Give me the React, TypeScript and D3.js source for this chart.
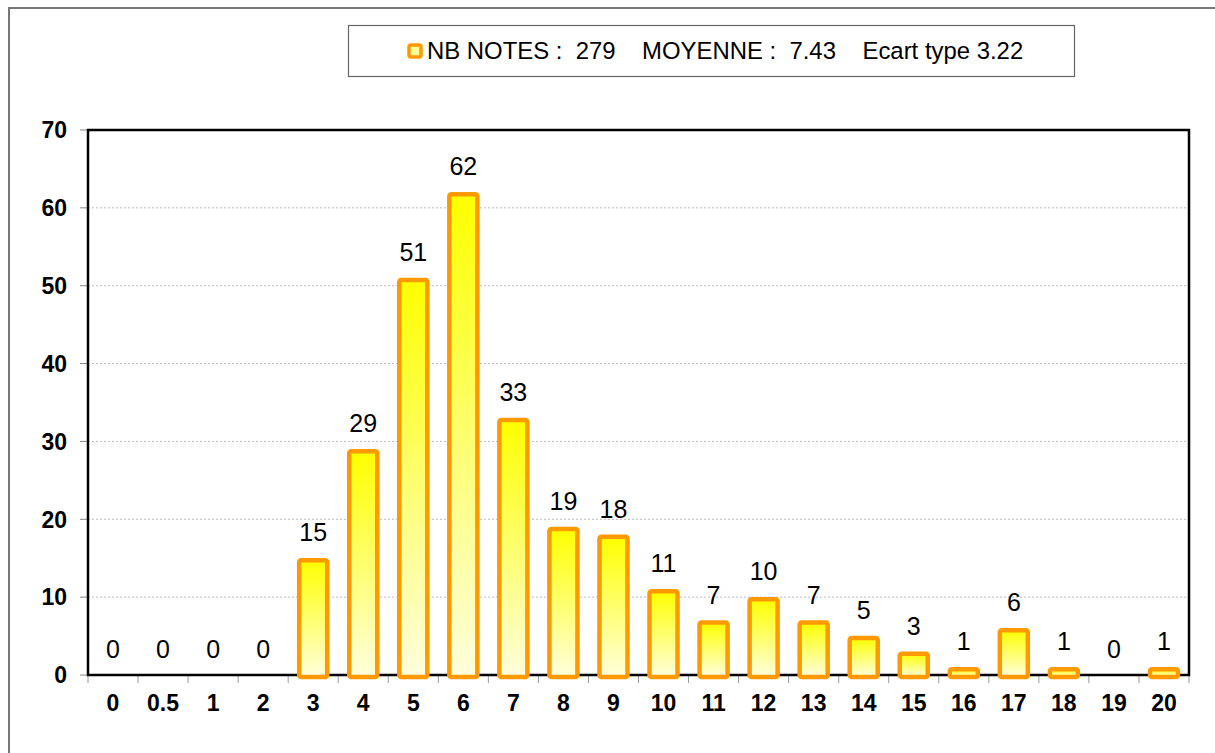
import React from "react";
import * as d3 from "d3";

// distribution des notes

const notes = ["0", "0.5", "1", "2", "3", "4", "5", "6", "7", "8", "9", "10", "11", "12", "13", "14", "15", "16", "17", "18", "19", "20"];
const effectifs = [0, 0, 0, 0, 15, 29, 51, 62, 33, 19, 18, 11, 7, 10, 7, 5, 3, 1, 6, 1, 0, 1];
const yTicks = [0, 10, 20, 30, 40, 50, 60, 70];
const legendText = "NB NOTES :  279    MOYENNE :  7.43    Ecart type 3.22";

const W = 1215;
const H = 753;
const margin = { top: 130, right: 26, bottom: 78, left: 88 };
const font = "Arial, 'Liberation Sans', sans-serif";

export default function App() {
  const innerW = W - margin.left - margin.right;
  const innerH = H - margin.top - margin.bottom;

  const x = d3.scaleBand<string>().domain(notes).range([0, innerW]).paddingInner(0.36).paddingOuter(0.18);
  const y = d3.scaleLinear().domain([0, 70]).range([innerH, 0]);
  const step = x.step();
  const bw = x.bandwidth();

  return (
    <svg width={W} height={H} style={{ position: "absolute", left: 0, top: 0, background: "#fff" }} fontFamily={font}>
      <defs>
        <linearGradient id="barGrad" x1="0" x2="0" y1="0" y2="1">
          <stop offset="0%" stopColor="#ffff00" />
          <stop offset="100%" stopColor="#ffffdd" />
        </linearGradient>
      </defs>

      <rect x={9} y={8} width={W + 10} height={H + 10} fill="none" stroke="#777" strokeWidth={2} />

      {/* legend */}
      <rect x={348.5} y={25.5} width={726} height={51} fill="#fff" stroke="#666" strokeWidth={1.2} />
      <rect x={409} y={45} width={12} height={12} rx={2} fill="#ffff99" stroke="#ff9900" strokeWidth={3.5} />
      <text x={427} y={59} fontSize={23.9} fill="#000" style={{ whiteSpace: "pre" }}>
        {legendText}
      </text>

      <g transform={`translate(${margin.left},${margin.top})`}>
        {yTicks.slice(1).map((t) => (
          <line key={"g" + t} x1={0} x2={innerW} y1={y(t)} y2={y(t)} stroke="#aaa" strokeWidth={0.8} strokeDasharray="2,2" />
        ))}
        {yTicks.map((t) => (
          <g key={"y" + t}>
            <line x1={-8} x2={0} y1={y(t)} y2={y(t)} stroke="#888" strokeWidth={1} />
            <text x={-21} y={y(t)} dy="0.36em" textAnchor="end" fontSize={23} fontWeight="bold">
              {t}
            </text>
          </g>
        ))}
        {d3.range(notes.length + 1).map((i) => (
          <line key={"xt" + i} x1={i * step} x2={i * step} y1={innerH} y2={innerH + 8} stroke="#999" strokeWidth={1} />
        ))}
        {notes.map((n) => (
          <text key={"xl" + n} x={(x(n) ?? 0) + bw / 2} y={innerH + 36} textAnchor="middle" fontSize={23} fontWeight="bold">
            {n}
          </text>
        ))}

        {/* frame */}
        <rect x={0} y={0} width={innerW} height={innerH} fill="none" stroke="#000" strokeWidth={2.5} />

        {notes.map((n, i) => {
          const v = effectifs[i];
          const bx = x(n) ?? 0;
          const top = y(v);
          return (
            <g key={"b" + n}>
              {v > 0 && (
                <rect
                  x={bx + 2}
                  y={top + 2}
                  width={bw - 4}
                  height={innerH - top}
                  rx={2}
                  fill="url(#barGrad)"
                  stroke="#ff9900"
                  strokeWidth={4.5}
                />
              )}
              <text x={bx + bw / 2} y={top - 17} textAnchor="middle" fontSize={25} fill="#000">
                {v}
              </text>
            </g>
          );
        })}
      </g>
    </svg>
  );
}
